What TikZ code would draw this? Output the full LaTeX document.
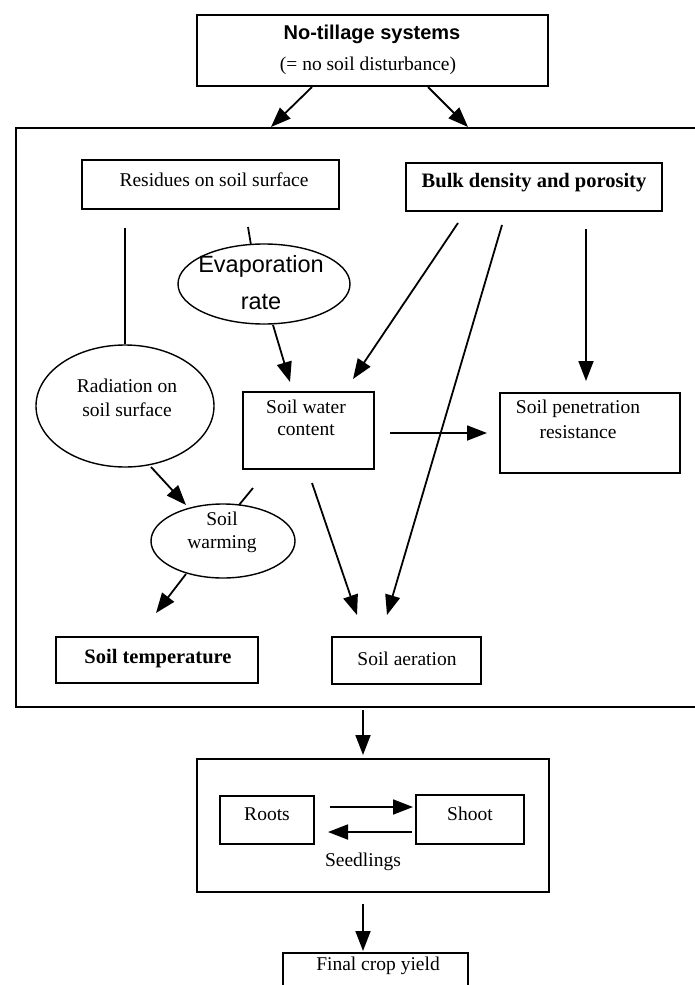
\documentclass[tikz,border=0pt]{standalone}
\usepackage{fontspec}
\setmainfont{Liberation Serif}
\setsansfont{Liberation Sans}
\usetikzlibrary{arrows.meta,shapes.geometric}
\begin{document}
\begin{tikzpicture}[x=1pt,y=-1pt,
  box/.style={draw,line width=1.4pt,inner sep=0pt},
  oval/.style={draw,line width=1.4pt,ellipse,inner sep=0pt},
  txt/.style={inner sep=0pt,font=\fontsize{19.5}{22}\selectfont},
  btxt/.style={inner sep=0pt,font=\fontsize{20.5}{23}\selectfont\bfseries},
  stxt/.style={inner sep=0pt,font=\fontsize{23.5}{26}\selectfont\sffamily},
  sbtxt/.style={inner sep=0pt,font=\fontsize{20}{23}\selectfont\sffamily\bfseries},
  arr/.style={line width=1.8pt,-{Triangle[length=20pt,width=15pt]}},
  ln/.style={line width=1.8pt}]
\useasboundingbox (0,0) rectangle (695,985);
% top box
\node[box,minimum width=351,minimum height=71] (top) at (372.5,50.5) {};
\node[sbtxt] (topt1) at (372,34) {No-tillage systems};
\node[txt] (topt2) at (368,66) {(= no soil disturbance)};
% outer frame
\coordinate (ftr) at (695,128);
\coordinate (ftl) at (16,128);
\coordinate (fbl) at (16,707);
\coordinate (fbr) at (695,707);
\draw[line width=2.8pt] (ftr) -- (ftl) -- (fbl) -- (fbr);
\coordinate (a1s) at (312,87); \coordinate (a1e) at (271,127);
\coordinate (a2s) at (428,87); \coordinate (a2e) at (468,127);
\draw[arr] (a1s) -- (a1e);
\draw[arr] (a2s) -- (a2e);
% residues
\node[box,minimum width=257,minimum height=49] (res) at (210.5,184.5) {};
\node[txt] (rest) at (214,180) {Residues on soil surface};
% bulk
\node[box,minimum width=256,minimum height=48] (bulk) at (534,187) {};
\node[btxt] (bulkt) at (534,183) {Bulk density and porosity};
% evaporation
\node[oval,minimum width=172,minimum height=80] (evap) at (264,284) {};
\node[stxt] (evapt1) at (261,266) {Evaporation};
\node[stxt] (evapt2) at (261,302) {rate};
% radiation
\node[oval,minimum width=178,minimum height=122] (rad) at (125,406) {};
\node[txt] (radt1) at (127,386) {Radiation on};
\node[txt] (radt2) at (127,410) {soil surface};
% soil water
\node[box,minimum width=131,minimum height=77] (water) at (308.5,430.5) {};
\node[txt] (watert1) at (306,407) {Soil water};
\node[txt] (watert2) at (306,430) {content};
% penetration
\node[box,minimum width=180,minimum height=80] (pen) at (590,433) {};
\node[txt] (pent1) at (578,409) {Soil penetration};
\node[txt] (pent2) at (578,432) {resistance};
% soil warming
\node[oval,minimum width=144,minimum height=74] (warm) at (223,541) {};
\node[txt] (warmt1) at (222,519) {Soil};
\node[txt] (warmt2) at (222,544) {warming};
% soil temperature
\node[box,minimum width=202,minimum height=46] (temp) at (157,660) {};
\node[btxt] (tempt) at (158,659) {Soil temperature};
% aeration
\node[box,minimum width=149,minimum height=47] (aer) at (406.5,660.5) {};
\node[txt] (aert) at (407,659) {Soil aeration};
% connectors inside
\coordinate (r1s) at (125,228);
\draw[ln] (r1s) -- (rad.north);
\coordinate (r2s) at (248,227);
\coordinate (r2e) at (251,245);
\draw[ln] (r2s) -- (r2e);
\coordinate (e1s) at (273,325); \coordinate (e1e) at (290,382);
\draw[arr] (e1s) -- (e1e);
\coordinate (b1s) at (458,223); \coordinate (b1e) at (353,379);
\draw[arr] (b1s) -- (b1e);
\coordinate (b2s) at (502,225); \coordinate (b2e) at (387,615);
\draw[arr] (b2s) -- (b2e);
\coordinate (b3s) at (586,229); \coordinate (b3e) at (586,381);
\draw[arr] (b3s) -- (b3e);
\coordinate (w1s) at (390,433); \coordinate (w1e) at (487,433);
\draw[arr] (w1s) -- (w1e);
\coordinate (rws) at (151,467); \coordinate (rwe) at (186,505);
\draw[arr] (rws) -- (rwe);
\coordinate (sts) at (253,488); \coordinate (ste) at (239,505);
\draw[ln] (sts) -- (ste);
\coordinate (wts) at (186,574); \coordinate (wte) at (156,613);
\draw[arr] (wts) -- (wte);
\coordinate (was) at (312,483); \coordinate (wae) at (357,615);
\draw[arr] (was) -- (wae);
% seedlings
\coordinate (s0s) at (363,710); \coordinate (s0e) at (363,755);
\draw[arr] (s0s) -- (s0e);
\node[box,minimum width=352,minimum height=133] (seed) at (373,825.5) {};
\node[txt] (seedt) at (363,862) {Seedlings};
\node[box,minimum width=94,minimum height=48] (roots) at (267,820) {};
\node[txt] (rootst) at (267,814) {Roots};
\node[box,minimum width=108,minimum height=49] (shoot) at (470,819.5) {};
\node[txt] (shoott) at (470,814) {Shoot};
\coordinate (rs1) at (330,807); \coordinate (rs2) at (413,807);
\draw[arr] (rs1) -- (rs2);
\coordinate (sr1) at (412,832); \coordinate (sr2) at (328,832);
\draw[arr] (sr1) -- (sr2);
\coordinate (f0s) at (363,904); \coordinate (f0e) at (363,951);
\draw[arr] (f0s) -- (f0e);
% final crop yield (bottom cut by page edge)
\coordinate (fy1) at (283,986); \coordinate (fy2) at (283,953);
\coordinate (fy3) at (468,953); \coordinate (fy4) at (468,986);
\draw[line width=1.4pt] (fy1) -- (fy2) -- (fy3) -- (fy4);
\node[txt] (finalt) at (378,966) {Final crop yield};
\end{tikzpicture}
\end{document}
